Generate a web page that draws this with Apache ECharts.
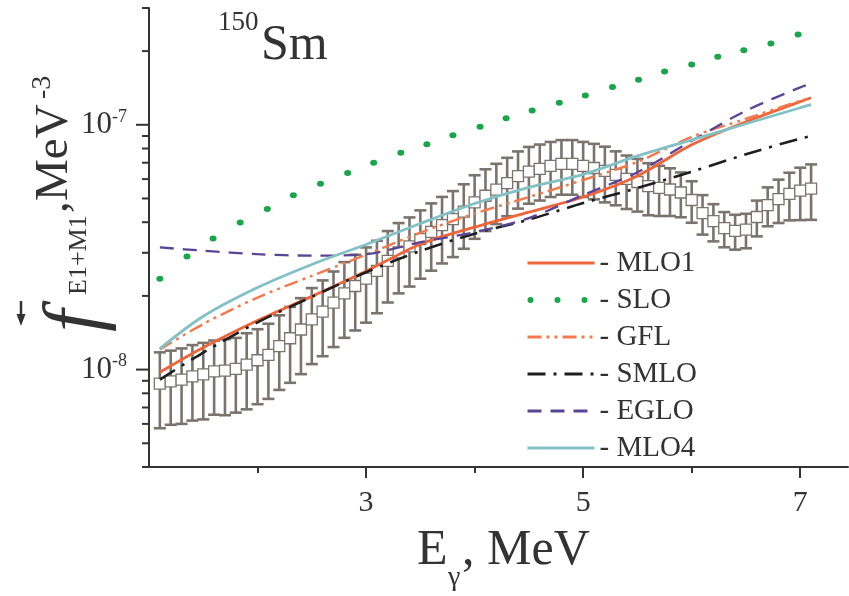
<!DOCTYPE html>
<html><head><meta charset="utf-8">
<script src="https://cdn.jsdelivr.net/npm/echarts@6/dist/echarts.min.js"></script>
<style>html,body{margin:0;padding:0;background:#fff}#c{width:849px;height:596px}</style>
</head><body><div id="c"></div>
<script>
// ---- data (values in units of 1e-8 MeV^-3) ----
const UNIT = 1e-8;
const expE = [1.1,1.2,1.3,1.4,1.5,1.6,1.7,1.8,1.9,2.0,
  2.1,2.2,2.3,2.4,2.5,2.6,2.7,2.8,2.9,3.0,
  3.1,3.2,3.3,3.4,3.5,3.6,3.7,3.8,3.9,4.0,
  4.1,4.2,4.3,4.4,4.5,4.6,4.7,4.8,4.9,5.0,
  5.1,5.2,5.3,5.4,5.5,5.6,5.7,5.8,5.9,6.0,
  6.1,6.2,6.3,6.4,6.5,6.6,6.7,6.8,6.9,7.0,7.1];
const expV = [0.876,0.895,0.910,0.939,0.956,0.984,0.991,1.007,1.048,1.092,
  1.149,1.246,1.343,1.458,1.603,1.724,1.876,2.048,2.195,2.355,
  2.529,2.780,3.008,3.184,3.411,3.655,3.894,4.121,4.415,4.822,
  5.131,5.430,5.781,6.165,6.439,6.604,6.79,6.92,6.92,6.79,
  6.66,6.48,6.24,6.01,5.84,5.62,5.52,5.44,5.29,4.93,
  4.36,4.04,3.78,3.69,3.73,4.20,4.70,4.97,5.22,5.38,5.49];
const expErr = [0.30,0.30,0.31,0.32,0.33,0.33,0.34,0.34,0.36,0.37,
  0.39,0.42,0.46,0.50,0.55,0.59,0.64,0.70,0.75,0.80,
  0.83,0.90,0.96,1.00,1.06,1.12,1.18,1.24,1.30,1.40,
  1.45,1.50,1.55,1.62,1.68,1.70,1.72,1.74,1.74,1.72,
  1.70,1.66,1.55,1.48,1.42,1.35,1.28,1.20,1.10,0.95,
  0.80,0.70,0.62,0.60,0.60,0.70,0.85,1.00,1.15,1.30,1.40];

const modelE = [1.1,1.5,2.0,2.5,3.0,3.5,4.0,4.5,5.0,5.5,6.0,6.5,7.0,7.1];
const mlo1 = [0.975,1.231,1.588,1.991,2.521,3.253,3.819,4.399,5.069,6.18,8.28,10.29,12.43,12.90];
const gfl  = [1.208,1.536,1.969,2.415,2.946,3.626,4.338,5.069,5.951,7.053,8.929,10.58,12.54,12.90];
const smlo = [0.910,1.174,1.560,1.982,2.498,3.051,3.592,4.101,4.789,5.518,6.435,7.577,8.789,8.99];
const eglo = [3.155,3.06,2.96,2.92,2.96,3.315,3.643,4.159,5.166,6.398,8.60,11.41,14.22,14.72];
const mlo4 = [1.219,1.652,2.164,2.689,3.244,3.952,4.768,5.555,6.27,7.46,8.68,10.10,11.74,12.08];

const sloE = [1.10,1.35,1.59,1.84,2.09,2.33,2.58,2.83,3.07,3.32,3.56,3.80,4.05,4.29,4.53,4.78,5.02,5.27,5.51,5.75,6.00,6.24,6.48,6.73,6.98];
const slo  = [2.35,2.90,3.43,3.99,4.53,5.15,5.75,6.36,6.99,7.68,8.33,9.06,9.81,10.63,11.45,12.31,13.18,14.27,15.29,16.49,17.62,18.95,20.16,21.48,23.38];

const xMajorTicks = [3,5,7];
const xMinorTicks = [2,4,6];
const yTickVals = [4e-9,5e-9,6e-9,7e-9,8e-9,9e-9,1e-8,2e-8,3e-8,4e-8,5e-8,6e-8,7e-8,8e-8,9e-8,1e-7,2e-7,3e-7];
const yMajorVals = [1e-8,1e-7];

// ---- styling ----
const SERIF = '"Liberation Serif","Times New Roman",serif';
const AX = '#333';
const BAR = '#7a746d';
const C = {MLO1:'#f0643a', SLO:'#19a64a', GFL:'#f47a4e', SMLO:'#1e1e1e', EGLO:'#5a4494', MLO4:'#82c1c5'};

const pairs = (xs, ys) => xs.map((x, i) => [x, ys[i] * UNIT]);

function lineSeries(name, ys, dash, width) {
  return {
    name, type:'line', data: pairs(modelE, ys), smooth:0.3, symbol:'none', z:6,
    itemStyle:{color:C[name]},
    lineStyle:{color:C[name], width:width, type:dash, cap:'butt'}
  };
}

const chart = echarts.init(document.getElementById('c'), null, {renderer:'canvas'});
// three dots plus a zero-area segment spanning the full legend icon width
const sloIcon = 'path://M0,3L67,3L0,3zM0,3a3,3 0 1,0 6,0a3,3 0 1,0 -6,0zM27,3a3,3 0 1,0 6,0a3,3 0 1,0 -6,0zM54,3a3,3 0 1,0 6,0a3,3 0 1,0 -6,0z';

chart.setOption({
  animation:false,
  backgroundColor:'#fff',
  grid:{left:149, right:1, top:8, bottom:129, containLabel:false, outerBoundsMode:'none'},
  xAxis:[{
    type:'value', min:1, max:7.44, position:'bottom',
    axisLine:{show:true, lineStyle:{color:AX, width:2}},
    axisTick:{show:true, length:11, customValues:xMajorTicks, lineStyle:{color:AX, width:2}},
    axisLabel:{show:true, customValues:xMajorTicks, fontFamily:SERIF, fontSize:30, color:'#333', margin:21},
    splitLine:{show:false}
  },{
    type:'value', min:1, max:7.44, position:'bottom', gridIndex:0,
    axisLine:{show:false},
    axisTick:{show:true, length:6, customValues:xMinorTicks, lineStyle:{color:AX, width:2}},
    axisLabel:{show:false}, splitLine:{show:false}
  }],
  yAxis:{
    type:'log', logBase:10, min:4e-9, max:3e-7,
    axisLine:{show:true, lineStyle:{color:AX, width:2}},
    axisTick:{show:false}, splitLine:{show:false}, minorTick:{show:false},
    axisLabel:{
      margin:22,
      formatter:function(v){
        const ex = Math.log10(v);
        if (Math.abs(ex - Math.round(ex)) > 1e-6) return '';
        return '{a|10}{b|' + Math.round(ex) + '}';
      },
      rich:{
        a:{fontFamily:SERIF, fontSize:31, color:'#333', lineHeight:34},
        b:{fontFamily:SERIF, fontSize:18, color:'#333', verticalAlign:'top', lineHeight:17}
      }
    }
  },
  legend:{
    orient:'vertical', left:521, top:243,
    itemWidth:67, itemHeight:14, itemGap:7,
    formatter:'- {name}',
    textStyle:{fontFamily:SERIF, fontSize:29, color:'#333', lineHeight:30},
    itemStyle:{opacity:0},
    lineStyle:{width:3},
    selectedMode:false,
    data:['MLO1', {name:'SLO', icon:sloIcon, itemStyle:{opacity:1, color:C.SLO, borderWidth:0}}, 'GFL', 'SMLO', 'EGLO', 'MLO4']
  },
  series:[
    { // error bars
      type:'custom', name:'errbars', z:2, silent:true,
      data: expE.map((e, i) => [e, expV[i]*UNIT, expErr[i]*UNIT]),
      encode:{x:0, y:1},
      renderItem:function(params, api){
        const e = api.value(0), v = api.value(1), er = api.value(2);
        const t = api.coord([e, v + er]), b = api.coord([e, v - er]);
        const hw = 6, st = {stroke:BAR, lineWidth:2.6};
        return {type:'group', children:[
          {type:'line', shape:{x1:t[0], y1:t[1], x2:b[0], y2:b[1]}, style:st},
          {type:'line', shape:{x1:t[0]-hw, y1:t[1], x2:t[0]+hw, y2:t[1]}, style:st},
          {type:'line', shape:{x1:b[0]-hw, y1:b[1], x2:b[0]+hw, y2:b[1]}, style:st}
        ]};
      }
    },
    { // experimental squares
      type:'scatter', name:'exp', z:3, silent:true,
      data: pairs(expE, expV),
      symbol:'rect', symbolSize:11,
      itemStyle:{color:'#fff', borderColor:BAR, borderWidth:1.3, opacity:1}
    },
    lineSeries('MLO1', mlo1, 'solid', 2.8),
    {
      name:'SLO', type:'line', data: pairs(sloE, slo), z:6,
      symbol:'circle', symbolSize:[7,6], showSymbol:true, showAllSymbol:true,
      itemStyle:{color:C.SLO, borderWidth:0},
      lineStyle:{width:0, opacity:0}
    },
    lineSeries('GFL', gfl, [14,5,3,5,3,5], 2.5),
    lineSeries('SMLO', smlo, [18,8,3,8], 2.6),
    lineSeries('EGLO', eglo, [14,9], 2.3),
    lineSeries('MLO4', mlo4, 'solid', 2.8),
    { // y axis ticks on log scale
      type:'custom', name:'yticks', z:8, clip:false, silent:true,
      data: yTickVals.map(v => [1, v, yMajorVals.indexOf(v) >= 0 ? 1 : 0]),
      encode:{x:0, y:1},
      renderItem:function(params, api){
        const c = api.coord([api.value(0), api.value(1)]);
        const L = api.value(2) ? 13 : 7;
        return {type:'line', shape:{x1:c[0]-L, y1:c[1], x2:c[0], y2:c[1]}, style:{stroke:AX, lineWidth:2}};
      }
    }
  ],
  graphic:[
    {type:'text', x:218, y:23, style:{text:'150', fontFamily:SERIF, fontSize:27, fill:'#333', align:'left', verticalAlign:'middle'}},
    {type:'text', x:261, y:46, style:{text:'Sm', fontFamily:SERIF, fontSize:50, fill:'#333', align:'left', verticalAlign:'middle'}},
    // x axis title
    {type:'text', x:417, y:551, style:{text:'E', fontFamily:SERIF, fontSize:50, fill:'#333', align:'left', verticalAlign:'middle'}},
    {type:'text', x:448, y:578, style:{text:'γ', fontFamily:SERIF, fontSize:28, fill:'#333', align:'left', verticalAlign:'middle'}},
    {type:'text', x:462, y:551, style:{text:', MeV', fontFamily:SERIF, fontSize:50, fill:'#333', align:'left', verticalAlign:'middle'}},
    // y axis title (rotated)
    {type:'text', x:78, y:332, rotation:Math.PI/2, style:{text:'f', fontFamily:SERIF, fontStyle:'italic', fontSize:80, fill:'#333', align:'left', verticalAlign:'middle'}},
    {type:'text', x:79, y:295, rotation:Math.PI/2, style:{text:'E1+M1', fontFamily:SERIF, fontSize:26, fill:'#333', align:'left', verticalAlign:'middle'}},
    {type:'text', x:55, y:213, rotation:Math.PI/2, style:{text:',', fontFamily:SERIF, fontSize:47, fill:'#333', align:'left', verticalAlign:'middle'}},
    {type:'text', x:55, y:201, rotation:Math.PI/2, style:{text:'MeV', fontFamily:SERIF, fontSize:47, fill:'#333', align:'left', verticalAlign:'middle'}},
    {type:'text', x:43, y:99, rotation:Math.PI/2, style:{text:'-3', fontFamily:SERIF, fontSize:28, fill:'#333', align:'left', verticalAlign:'middle'}},
    {type:'line', shape:{x1:21, y1:301, x2:21, y2:316}, style:{stroke:'#333', lineWidth:2.5}},
    {type:'polygon', shape:{points:[[16.5,314],[25.5,314],[21,326]]}, style:{fill:'#333'}}
  ]
});
</script>
</body></html>
